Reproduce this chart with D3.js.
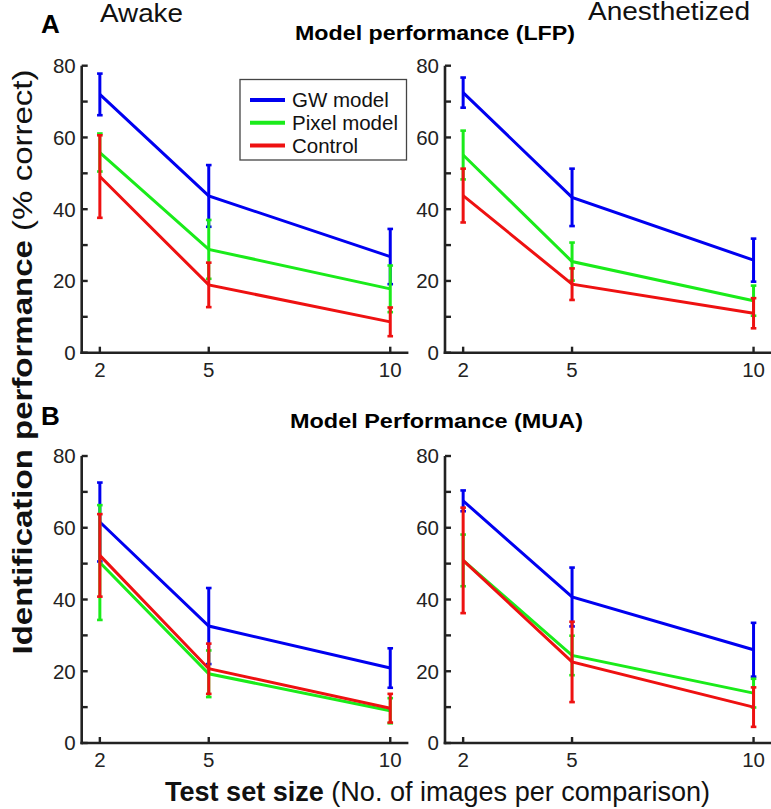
<!DOCTYPE html>
<html><head><meta charset="utf-8">
<script src="https://cdn.jsdelivr.net/npm/d3@7"></script>
<style>html,body{margin:0;padding:0;background:#fff;}svg{display:block;font-family:"Liberation Sans",Arial,Helvetica,sans-serif;}</style>
</head><body>
<script>
// ---- data ----
const sizes = [2, 5, 10];
const seriesNames = ["GW model", "Pixel model", "Control"];
const seriesColors = ["#0000f0", "#1aeb1a", "#ee1111"];
const yTicks = [0, 10, 20, 30, 40, 50, 60, 70, 80];
const yTickLabels = [0, 20, 40, 60, 80];

const lfpAwakeMean = [[72, 43.7, 26.8], [55.8, 28.8, 17.8], [49.1, 18.9, 8.6]];
const lfpAwakeErr  = [[5.8, 8.6, 7.7], [5.3, 8.2, 6.5], [11.5, 6.2, 4.0]];
const lfpAnesMean  = [[72.5, 43.3, 25.8], [55.1, 25.4, 14.5], [43.8, 19.1, 11.0]];
const lfpAnesErr   = [[4.2, 8.0, 6.0], [6.8, 5.3, 4.2], [7.5, 4.4, 4.2]];
const muaAwakeMean = [[61.6, 32.6, 20.9], [50.3, 19.3, 9.0], [52.3, 20.7, 9.7]];
const muaAwakeErr  = [[11.0, 10.6, 5.5], [16.0, 6.5, 3.5], [11.5, 7.0, 4.0]];
const muaAnesMean  = [[67.5, 40.7, 26.0], [50.9, 24.4, 13.9], [50.9, 22.6, 10.0]];
const muaAnesErr   = [[2.9, 8.2, 7.5], [7.2, 5.5, 4.0], [14.7, 11.2, 5.5]];

const W = 771, H = 809;
const svg = d3.select("body").append("svg").attr("width", W).attr("height", H);
const axisColor = "#222";

function panel(x0, x1, yTop, yBot, means, errs) {
  const x = d3.scaleLinear().domain([1.5, 10.5]).range([x0, x1]);
  const y = d3.scaleLinear().domain([0, 80]).range([yBot, yTop]);
  const g = svg.append("g");
  g.append("line").attr("x1", x0).attr("x2", x0).attr("y1", y(80)).attr("y2", yBot + 1.3)
    .attr("stroke", axisColor).attr("stroke-width", 2.6);
  g.append("line").attr("x1", x0 - 1.3).attr("x2", x1).attr("y1", yBot).attr("y2", yBot)
    .attr("stroke", axisColor).attr("stroke-width", 2.6);
  g.selectAll(".yt").data(yTicks).enter().append("line")
    .attr("x1", x0).attr("x2", x0 + 6).attr("y1", d => y(d)).attr("y2", d => y(d))
    .attr("stroke", axisColor).attr("stroke-width", 2.4);
  g.selectAll(".yl").data(yTickLabels).enter().append("text")
    .attr("x", x0 - 6).attr("y", d => y(d)).attr("dy", "0.36em")
    .attr("text-anchor", "end").attr("font-size", 20.5).attr("fill", "#222").text(d => d);
  g.selectAll(".xt").data(sizes).enter().append("line")
    .attr("x1", d => x(d)).attr("x2", d => x(d)).attr("y1", yBot).attr("y2", yBot - 6)
    .attr("stroke", axisColor).attr("stroke-width", 2.4);
  g.selectAll(".xl").data(sizes).enter().append("text")
    .attr("x", d => x(d)).attr("y", yBot + 24)
    .attr("text-anchor", "middle").attr("font-size", 20.5).attr("fill", "#222").text(d => d);
  const line = d3.line().x((d, i) => x(sizes[i])).y(d => y(d));
  means.forEach((m, s) => {
    const c = seriesColors[s];
    g.append("path").attr("d", line(m)).attr("fill", "none").attr("stroke", c).attr("stroke-width", 3);
    m.forEach((v, i) => {
      const e = errs[s][i], cx = x(sizes[i]);
      g.append("line").attr("x1", cx).attr("x2", cx).attr("y1", y(v - e)).attr("y2", y(v + e))
        .attr("stroke", c).attr("stroke-width", 3);
      [v - e, v + e].forEach(t => g.append("line").attr("x1", cx - 2.8).attr("x2", cx + 2.8)
        .attr("y1", y(t)).attr("y2", y(t)).attr("stroke", c).attr("stroke-width", 2.6));
    });
  });
}

panel(81.7, 408.4, 65.7, 352.7, lfpAwakeMean, lfpAwakeErr);
panel(445, 771.7, 65.7, 352.7, lfpAnesMean, lfpAnesErr);
panel(81.7, 408.4, 456, 743, muaAwakeMean, muaAwakeErr);
panel(445, 771.7, 456, 743, muaAnesMean, muaAnesErr);

// legend
const lg = svg.append("g");
lg.append("rect").attr("x", 240).attr("y", 79.5).attr("width", 166.5).attr("height", 80.5)
  .attr("fill", "#fff").attr("stroke", "#444").attr("stroke-width", 1.3);
seriesNames.forEach((n, i) => {
  const yy = 100 + i * 22.8;
  lg.append("line").attr("x1", 250).attr("x2", 285).attr("y1", yy).attr("y2", yy)
    .attr("stroke", seriesColors[i]).attr("stroke-width", 4);
  lg.append("text").attr("x", 292).attr("y", yy).attr("dy", "0.36em").attr("font-size", 20.5)
    .attr("fill", "#111").text(n);
});

// texts
svg.append("text").attr("x", 41).attr("y", 33).attr("font-size", 26).attr("font-weight", "bold").text("A");
svg.append("text").attr("x", 41).attr("y", 425).attr("font-size", 26).attr("font-weight", "bold").text("B");
svg.append("text").attr("x", 100).attr("y", 22).attr("font-size", 26.5).attr("fill", "#111")
  .attr("textLength", 83).attr("lengthAdjust", "spacingAndGlyphs").text("Awake");
svg.append("text").attr("x", 588).attr("y", 20).attr("font-size", 26.5).attr("fill", "#111")
  .attr("textLength", 162).attr("lengthAdjust", "spacingAndGlyphs").text("Anesthetized");
svg.append("text").attr("x", 295).attr("y", 40).attr("font-size", 20).attr("font-weight", "bold")
  .attr("textLength", 280).attr("lengthAdjust", "spacingAndGlyphs").text("Model performance (LFP)");
svg.append("text").attr("x", 290).attr("y", 428).attr("font-size", 21).attr("font-weight", "bold")
  .attr("textLength", 293).attr("lengthAdjust", "spacingAndGlyphs").text("Model Performance (MUA)");

// x label
const xl = svg.append("text").attr("x", 165).attr("y", 801).attr("font-size", 27.5).attr("fill", "#111")
  .attr("textLength", 545).attr("lengthAdjust", "spacingAndGlyphs");
xl.append("tspan").attr("font-weight", "bold").text("Test set size");
xl.append("tspan").text(" (No. of images per comparison)");

// y label
const yl = svg.append("text").attr("transform", "translate(32,362) rotate(-90)")
  .attr("text-anchor", "middle").attr("font-size", 28).attr("fill", "#111")
  .attr("textLength", 585).attr("lengthAdjust", "spacingAndGlyphs");
yl.append("tspan").attr("font-weight", "bold").text("Identification performance");
yl.append("tspan").text(" (% correct)");
</script>
</body></html>
